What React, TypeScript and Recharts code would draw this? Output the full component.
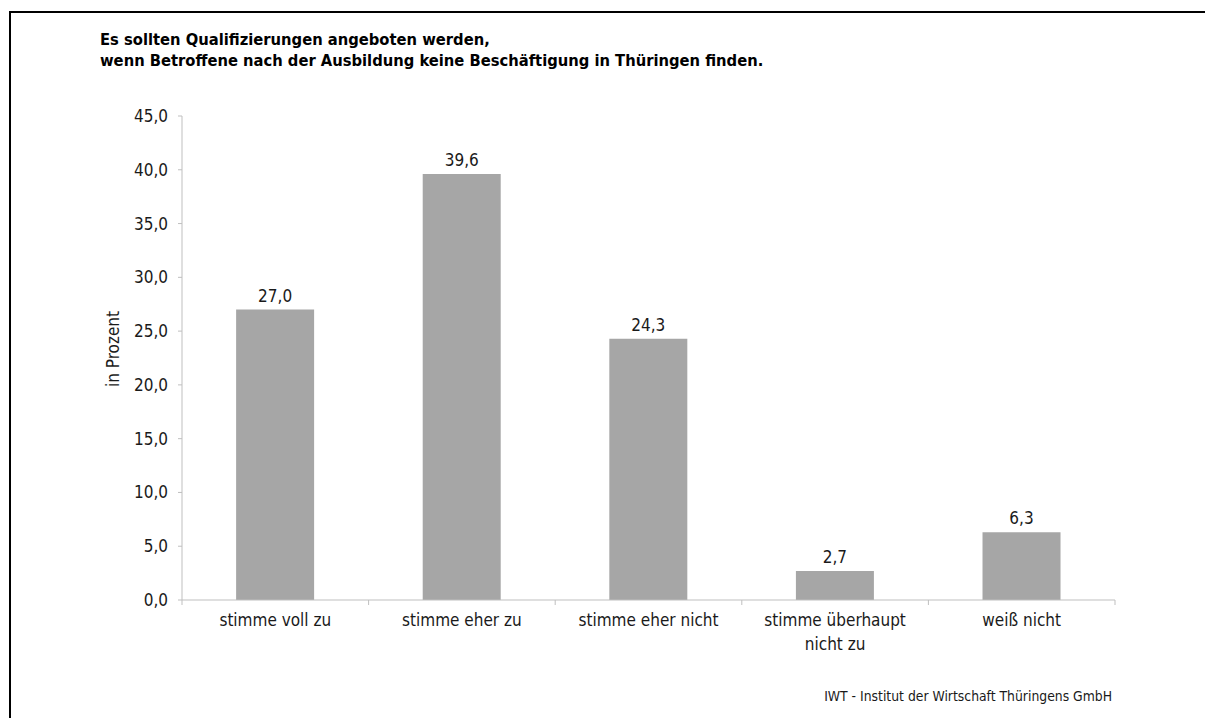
import { Bar, BarChart, LabelList, XAxis, YAxis } from "recharts";

const categories = [
  "stimme voll zu",
  "stimme eher zu",
  "stimme eher nicht",
  "stimme überhaupt nicht zu",
  "weiß nicht",
];
const values = [27.0, 39.6, 24.3, 2.7, 6.3];
const yTicks = [0, 5, 10, 15, 20, 25, 30, 35, 40, 45];

const titleLines = [
  "Es sollten Qualifizierungen angeboten werden,",
  "wenn Betroffene nach der Ausbildung keine Beschäftigung in Thüringen finden.",
];
const source = "IWT - Institut der Wirtschaft Thüringens GmbH";

const FONT = "'DejaVu Sans Condensed', 'Liberation Sans Narrow', sans-serif";
const AXIS = "#bfbfbf";

const data = categories.map((c, i) => ({ label: c, value: values[i] }));

const fmt = (v: number) => v.toFixed(1).replace(".", ",");

// wrap label like excel does
const wrap = (s: string, max = 17) => {
  const lines: string[] = [];
  let cur = "";
  for (const w of s.split(" ")) {
    if (cur && (cur + " " + w).length > max) {
      lines.push(cur);
      cur = w;
    } else {
      cur = cur ? cur + " " + w : w;
    }
  }
  if (cur) lines.push(cur);
  return lines;
};

const CategoryTick = (props: any) => {
  const { x, y, payload, index } = props;
  const half = payload.offset ?? 0;
  const lines = wrap(String(payload.value));
  return (
    <g>
      <line x1={x - half} x2={x - half} y1={y - 8} y2={y - 3} stroke={AXIS} />
      {index === categories.length - 1 && (
        <line x1={x + half} x2={x + half} y1={y - 8} y2={y - 3} stroke={AXIS} />
      )}
      {lines.map((l, i) => (
        <text
          key={i}
          x={x}
          y={y + 18 + i * 24}
          textAnchor="middle"
          fontSize={17}
          fontFamily={FONT}
          fill="#1a1a1a"
        >
          {l}
        </text>
      ))}
    </g>
  );
};

const App = () => {
  return (
    <div
      style={{
        position: "absolute",
        left: 0,
        top: 0,
        width: 1205,
        height: 718,
        background: "#fff",
        fontFamily: FONT,
        overflow: "hidden",
      }}
    >
      <div
        style={{
          position: "absolute",
          left: 9,
          top: 11,
          width: 1196,
          height: 707,
          boxSizing: "border-box",
          borderTop: "2px solid #000",
          borderLeft: "2px solid #000",
        }}
      />
      <div
        style={{
          position: "absolute",
          left: 100,
          top: 29,
          fontWeight: "bold",
          fontSize: 16.4,
          lineHeight: "21px",
          color: "#000",
        }}
      >
        {titleLines.map((t) => (
          <div key={t}>{t}</div>
        ))}
      </div>
      <BarChart
        width={1205}
        height={718}
        data={data}
        margin={{ top: 116, right: 90, bottom: 88, left: 112 }}
        barCategoryGap="29%"
        style={{ position: "absolute", left: 0, top: 0 }}
      >
        <XAxis
          dataKey="label"
          stroke={AXIS}
          tickLine={false}
          tick={<CategoryTick />}
          interval={0}
          height={30}
        />
        <YAxis
          width={70}
          domain={[0, 45]}
          ticks={yTicks}
          tickFormatter={fmt}
          stroke={AXIS}
          tickSize={4}
          tickMargin={10}
          tick={{ fill: "#1a1a1a", fontSize: 17, fontFamily: FONT }}
          label={{
            content: (p: any) => {
              const vb = p.viewBox;
              const cx = vb.x + 1;
              const cy = vb.y + vb.height / 2 - 9;
              return (
                <text
                  x={cx}
                  y={cy}
                  transform={`rotate(-90 ${cx} ${cy})`}
                  textAnchor="middle"
                  dominantBaseline="central"
                  fontSize={17}
                  fontFamily={FONT}
                  fill="#1a1a1a"
                >
                  in Prozent
                </text>
              );
            },
          }}
        />
        <Bar dataKey="value" fill="#a6a6a6" isAnimationActive={false}>
          <LabelList
            dataKey="value"
            position="top"
            offset={8}
            formatter={(v: any) => fmt(Number(v))}
            style={{ fill: "#1a1a1a", fontSize: 17, fontFamily: FONT }}
          />
        </Bar>
      </BarChart>
      <div
        style={{
          position: "absolute",
          right: 1205 - 1112,
          top: 688,
          fontSize: 13.8,
          color: "#1a1a1a",
        }}
      >
        {source}
      </div>
    </div>
  );
};

export default App;
